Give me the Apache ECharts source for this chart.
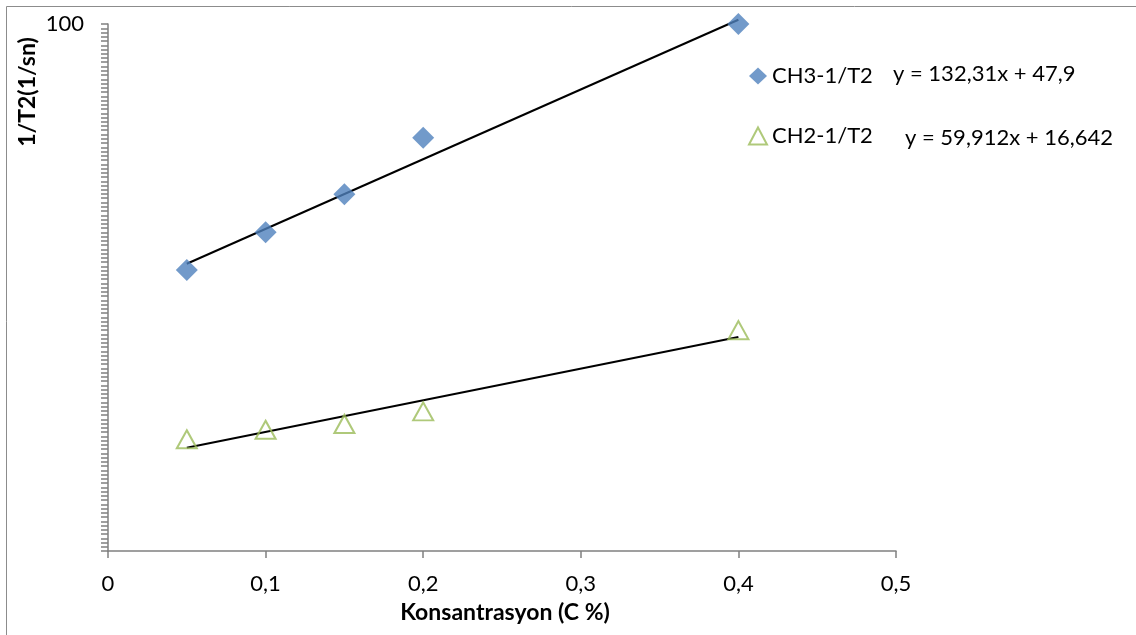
<!DOCTYPE html>
<html>
<head>
<meta charset="utf-8">
<script src="https://cdn.jsdelivr.net/npm/echarts@6/dist/echarts.min.js"></script>
<style>
html,body{margin:0;padding:0;background:#fff;}
#chart{width:1136px;height:635px;}
</style>
</head>
<body>
<div id="chart"></div>
<script>
// 数据
var xVals = [0.05, 0.1, 0.15, 0.2, 0.4];
var ch3Vals = [53.3, 60.5, 67.7, 78.4, 100];
var ch2Vals = [21.2, 23.0, 24.1, 26.5, 41.9];
// 趋势线端点 (Excel 线性趋势线)
var ch3Trend = [[0.05, 54.5], [0.4, 100.8]];
var ch2Trend = [[0.05, 19.6], [0.4, 40.6]];
var xTicks = ['0', '0,1', '0,2', '0,3', '0,4', '0,5'];
var ch3Eq = 'y = 132,31x + 47,9';
var ch2Eq = 'y = 59,912x + 16,642';

var font = 'Lato';

function pairs(xs, ys) {
	return xs.map(function (x, i) { return [x, ys[i]]; });
}

var myChart = echarts.init(document.getElementById('chart'));

var option = {
	animation: false,
	textStyle: {fontFamily: font},
	grid: {left: 108, right: 240, top: 24, bottom: 84},
	legend: {
		orient: 'vertical',
		left: 743,
		top: 60,
		itemGap: 38,
		itemWidth: 18,
		itemHeight: 17,
		data: ['CH3-1/T2', 'CH2-1/T2'],
		textStyle: {fontFamily: font, fontSize: 22, color: '#000'}
	},
	xAxis: {
		type: 'value',
		min: 0,
		max: 0.5,
		interval: 0.1,
		axisLine: {lineStyle: {color: '#808080', width: 1.5}},
		axisTick: {show: true, length: 7, lineStyle: {color: '#808080', width: 1.5}},
		splitLine: {show: false},
		axisLabel: {
			margin: 22,
			fontSize: 22,
			color: '#000',
			formatter: function (v) { return xTicks[Math.round(v * 10)]; }
		}
	},
	yAxis: {
		type: 'value',
		min: 0,
		max: 100,
		interval: 25,
		axisLine: {show: true, lineStyle: {color: '#808080', width: 1.5}},
		axisTick: {show: true, length: 7, lineStyle: {color: '#808080', width: 1.5}},
		minorTick: {show: true, splitNumber: 31, length: 7, lineStyle: {color: '#808080', width: 1.5}},
		splitLine: {show: false},
		axisLabel: {
			margin: 24,
			fontSize: 22,
			color: '#000',
			formatter: function (v) { return v === 100 ? '100' : ''; }
		}
	},
	graphic: [
		{type: 'rect', shape: {x: 6.5, y: 6.5, width: 1140, height: 640}, style: {fill: null, stroke: '#8c8c8c', lineWidth: 1}, silent: true},
		{type: 'text', x: 28, y: 92, rotation: Math.PI / 2, style: {text: '1/T2(1/sn)', fontFamily: font, fontWeight: 'bold', fontSize: 23, fill: '#000', align: 'center', verticalAlign: 'middle'}},
		{type: 'text', x: 505, y: 613, style: {text: 'Konsantrasyon (C %)', fontFamily: font, fontWeight: 'bold', fontSize: 23, fill: '#000', align: 'center', verticalAlign: 'middle'}},
		{type: 'text', x: 893, y: 74, style: {text: ch3Eq, fontFamily: font, fontSize: 22, fill: '#000', verticalAlign: 'middle'}},
		{type: 'text', x: 905, y: 138, style: {text: ch2Eq, fontFamily: font, fontSize: 22, fill: '#000', verticalAlign: 'middle'}}
	],
	series: [
		{
			name: 'CH3 trend',
			type: 'line',
			data: ch3Trend,
			symbol: 'none',
			clip: false,
			lineStyle: {color: '#000', width: 2},
			z: 1
		},
		{
			name: 'CH2 trend',
			type: 'line',
			data: ch2Trend,
			symbol: 'none',
			clip: false,
			lineStyle: {color: '#000', width: 2},
			z: 1
		},
		{
			name: 'CH3-1/T2',
			type: 'scatter',
			data: pairs(xVals, ch3Vals),
			symbol: 'diamond',
			symbolSize: [22, 22],
			itemStyle: {color: '#4F81BD'},
			z: 3
		},
		{
			name: 'CH2-1/T2',
			type: 'scatter',
			data: pairs(xVals, ch2Vals),
			symbol: 'triangle',
			symbolSize: [20, 18],
			itemStyle: {color: 'rgba(255,255,255,0)', borderColor: '#9BBB59', borderWidth: 2},
			z: 3
		}
	]
};

myChart.setOption(option);
</script>
</body>
</html>
